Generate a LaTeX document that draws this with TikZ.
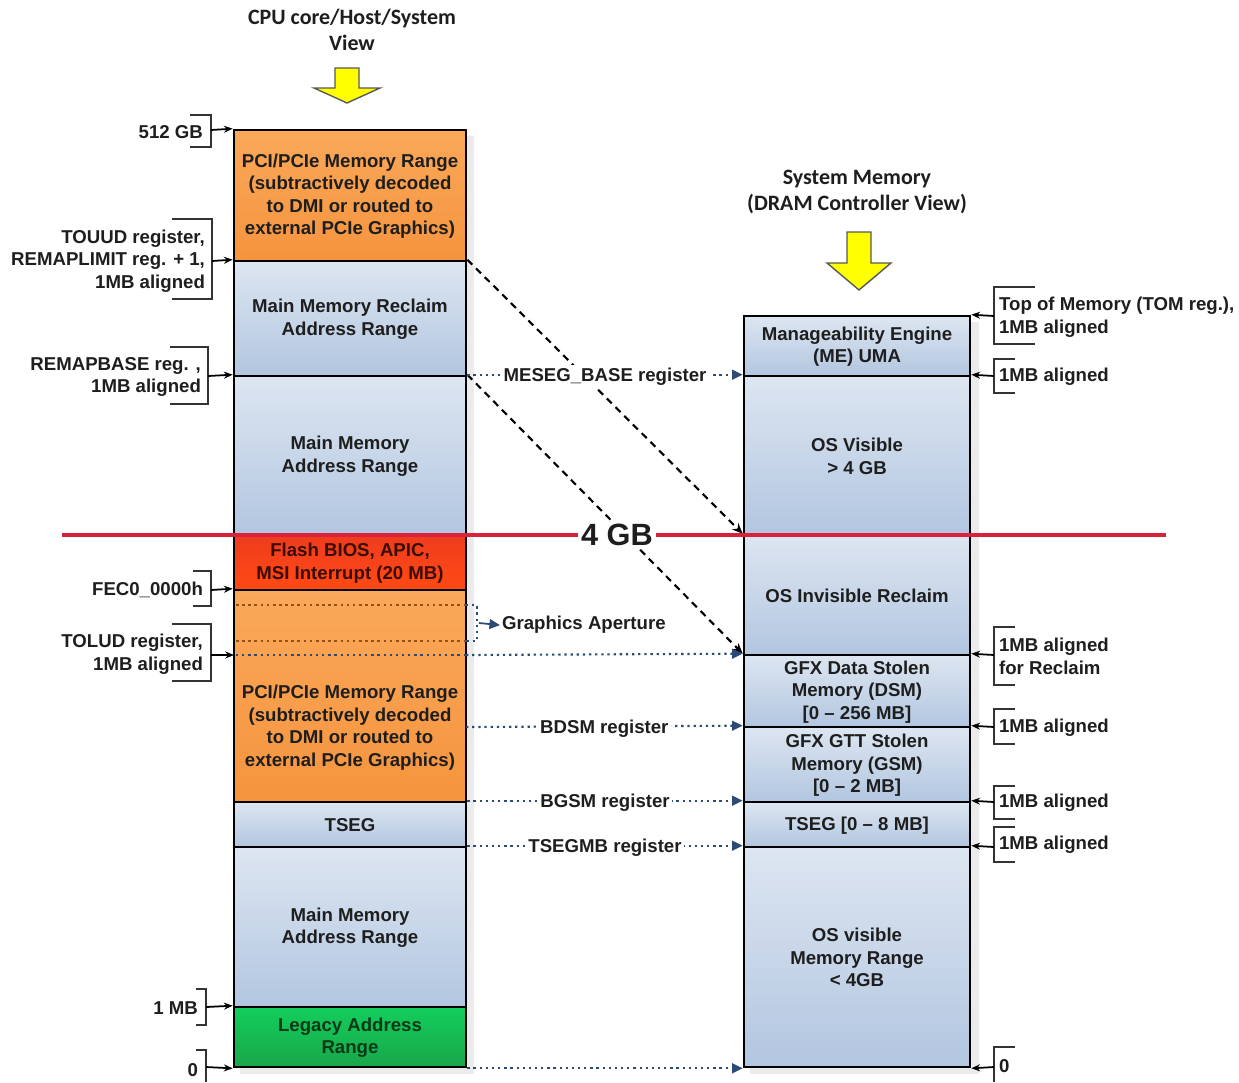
\documentclass[tikz,border=0pt]{standalone}
\usepackage{fontspec}
\setmainfont{Liberation Sans}
\newfontfamily\titlefont{Carlito}
\usetikzlibrary{arrows.meta,fit}

\definecolor{blueTop}{HTML}{DDE6F1}
\definecolor{blueBot}{HTML}{B2C6E0}
\definecolor{orgTop}{HTML}{FAA85A}
\definecolor{orgBot}{HTML}{F5943E}
\definecolor{redTop}{HTML}{EE3C1E}
\definecolor{redBot}{HTML}{FF4A14}
\definecolor{grnTop}{HTML}{12CE5C}
\definecolor{grnBot}{HTML}{1AA64A}
\definecolor{regblue}{HTML}{2B4A75}
\definecolor{gbred}{HTML}{D8213A}
\definecolor{ink}{HTML}{1E1E1E}
\definecolor{flashink}{HTML}{3A0C02}
\definecolor{legacyink}{HTML}{083A18}
\definecolor{apbrown}{HTML}{955016}
\definecolor{arrowyellow}{HTML}{FFFF00}

\tikzset{
  cell/.style={draw=black, line width=1.5pt, inner sep=0pt},
  bluecell/.style={cell, top color=blueTop, bottom color=blueBot},
  orangecell/.style={cell, top color=orgTop, bottom color=orgBot},
  redcell/.style={cell, top color=redTop, bottom color=redBot},
  greencell/.style={cell, top color=grnTop, bottom color=grnBot},
  lbl/.style={inner sep=1pt, text=ink, yshift=-1.2pt,
    font=\fontsize{10.6}{12.8}\selectfont\bfseries},
  celltext/.style={lbl, align=center, yshift=0.8pt},
  title/.style={align=center, text=ink, font=\titlefont\fontsize{12.5}{14.7}\selectfont\bfseries},
  brace/.style={draw=black!80, line width=0.8pt},
  ptr/.style={draw=black, line width=1pt, -{Stealth[length=5pt,width=4pt]}},
  regarrow/.style={draw=regblue, line width=1.2pt, dash pattern=on 1.3pt off 2.2pt,
    -{Triangle[length=6pt,width=5.5pt]}},
  regline/.style={draw=regblue, line width=1.2pt, dash pattern=on 1.3pt off 2.2pt},
  apline/.style={draw=apbrown, line width=1.6pt, dash pattern=on 1.5pt off 2pt},
  regname/.style={lbl, fill=white, inner sep=1.5pt},
  remap/.style={draw=black, line width=1.2pt, dash pattern=on 4pt off 3pt,
    -{Stealth[length=6pt,width=5pt]}},
  yarrow/.style={fill=arrowyellow, draw=black!65, line width=0.8pt, line join=miter},
  shadowbox/.style={fill=black, opacity=0.08}
}

% memory cell: name, corner x/y, opposite corner x/y, style, text, text colour
\newcommand\memcell[8]{%
  \node[#6, fit={(#2,#3)(#4,#5)}] (#1) {};
  \node[celltext, text=#8] (#1text) at (#1.center) {#7};}

\begin{document}
\begin{tikzpicture}[x=0.02cm, y=-0.02cm]
\useasboundingbox[fill=white] (0,0) rectangle (1239,1082);

% titles and yellow arrows
\node[title] (cputitle) at (352,30) {CPU core/Host/System\\View};
\node[title] (dramtitle) at (857,192) {System Memory\\(DRAM Controller View)};
\path[yarrow] (335,68) -- (359,68) -- (359,88) -- (380,88) -- (347,103)
  -- (314,88) -- (335,88) -- cycle;
\path[yarrow] (847,232) -- (871,232) -- (871,263) -- (891,263) -- (859,290)
  -- (827,263) -- (847,263) -- cycle;

% soft shadows behind both columns
\fill[shadowbox] (240,136) rectangle (474,1074);
\fill[shadowbox] (750,322) rectangle (979,1074);

% CPU / host view column
\memcell{lPCIhi}{234}{130}{466}{261}{orangecell}{PCI/PCIe Memory Range\\(subtractively decoded\\to DMI or routed to\\external PCIe Graphics)}{ink}
\memcell{lReclaim}{234}{261}{466}{376}{bluecell}{Main Memory Reclaim\\Address Range}{ink}
\memcell{lMainHi}{234}{376}{466}{535}{bluecell}{Main Memory\\Address Range}{ink}
\memcell{lFlash}{234}{535}{466}{590}{redcell}{Flash BIOS, APIC,\\MSI Interrupt (20 MB)}{flashink}
\node[orangecell, fit={(234,590)(466,802)}] (lPCIlo) {};
\memcell{lTSEG}{234}{802}{466}{847}{bluecell}{TSEG}{ink}
\memcell{lMainLo}{234}{847}{466}{1007}{bluecell}{Main Memory\\Address Range}{ink}
\memcell{lLegacy}{234}{1007}{466}{1067}{greencell}{Legacy Address\\Range}{legacyink}
\node[celltext] (lPCIloText) at (350,727) {PCI/PCIe Memory Range\\(subtractively decoded\\to DMI or routed to\\external PCIe Graphics)};

% DRAM controller view column
\memcell{rME}{744}{316}{970}{376}{bluecell}{Manageability Engine\\(ME) UMA}{ink}
\memcell{rOSvis}{744}{376}{970}{535}{bluecell}{OS Visible\\> 4 GB}{ink}
\memcell{rReclaim}{744}{535}{970}{655}{bluecell}{OS Invisible Reclaim}{ink}
\memcell{rDSM}{744}{655}{970}{727}{bluecell}{GFX Data Stolen\\Memory (DSM)\\{[0 – 256 MB]}}{ink}
\memcell{rGSM}{744}{727}{970}{802}{bluecell}{GFX GTT Stolen\\Memory (GSM)\\{[0 – 2 MB]}}{ink}
\memcell{rTSEG}{744}{802}{970}{847}{bluecell}{TSEG [0 – 8 MB]}{ink}
\memcell{rOSlow}{744}{847}{970}{1067}{bluecell}{OS visible\\Memory Range\\< 4GB}{ink}

% graphics aperture inside the lower PCI range
\coordinate (apTopL) at (236,605);
\coordinate (apTopR) at (466,605);
\coordinate (apBotL) at (236,641);
\coordinate (apBotR) at (466,641);
\coordinate (toludL) at (236,655);
\coordinate (toludR) at (466,655);
\coordinate (toludIn) at (234,655);
\coordinate (bdsmL) at (466,727);
\draw[apline] (apTopL) -- (apTopR);
\draw[apline] (apBotL) -- (apBotR);
\draw[regline] (toludL) -- (toludR);
\draw[regline] (apTopR) -- (477,605) -- (477,641) -- (apBotR);
\node[lbl, anchor=west] (aperture) at (500,623) {Graphics Aperture};
\draw[regblue, line width=1pt, -{Triangle[length=6pt,width=5.5pt]}] (479,623) -- (aperture.west);

% remapped reclaim windows
\draw[remap] (lReclaim.north east) -- (rReclaim.north west);
\draw[remap] (lMainHi.north east) -- (rDSM.north west);

% 4 GB boundary
\draw[gbred, line width=1.8pt] (62,535) -- (1166,535);
\node[fill=white, inner sep=2pt, text=ink, font=\fontsize{17.5}{19}\selectfont\bfseries] (fourgb) at (617,535) {4 GB};

% register pointers between the two views
\draw[regarrow] (lMainHi.north east) -- node[regname] (meseg) {MESEG\_BASE register} (rOSvis.north west);
\draw[regarrow] (toludR) -- (rDSM.north west);
\draw[regarrow] (bdsmL) -- node[regname] (bdsm) {BDSM register} (rGSM.north west);
\draw[regarrow] (lTSEG.north east) -- node[regname] (bgsm) {BGSM register} (rTSEG.north west);
\draw[regarrow] (lMainLo.north east) -- node[regname] (tsegmb) {TSEGMB register} (rOSlow.north west);
\draw[regarrow] (lLegacy.south east) -- (rOSlow.south west);

% address marks on the left
\node[lbl, anchor=east] (a512) at (205,130) {512 GB};
\draw[brace] (190,115) -- (211,115) -- (211,147) -- (190,147);
\coordinate (b512) at (211,130);
\draw[ptr] (b512) -- (lPCIhi.north west);

\node[lbl, anchor=east, align=right] (atouud) at (207,259) {TOUUD register,\\REMAPLIMIT reg. + 1,\\1MB aligned};
\draw[brace] (172,219) -- (212,219) -- (212,299) -- (172,299);
\coordinate (btouud) at (212,261);
\draw[ptr] (btouud) -- (lReclaim.north west);

\node[lbl, anchor=east, align=right] (aremap) at (203,375) {REMAPBASE reg. ,\\1MB aligned};
\draw[brace] (170,347) -- (208,347) -- (208,404) -- (170,404);
\coordinate (bremap) at (208,376);
\draw[ptr] (bremap) -- (lMainHi.north west);

\node[lbl, anchor=east] (afec) at (205,588) {FEC0\_0000h};
\draw[brace] (193,571) -- (211,571) -- (211,606) -- (193,606);
\coordinate (bfec) at (211,590);
\draw[ptr] (bfec) -- (lPCIlo.north west);

\node[lbl, anchor=east, align=right] (atolud) at (205,652) {TOLUD register,\\1MB aligned};
\draw[brace] (172,624) -- (211,624) -- (211,681) -- (172,681);
\coordinate (btolud) at (211,655);
\draw[ptr] (btolud) -- (toludIn);

\node[lbl, anchor=east] (a1mb) at (200,1006) {1 MB};
\draw[brace] (196,989) -- (206,989) -- (206,1025) -- (196,1025);
\coordinate (b1mb) at (206,1007);
\draw[ptr] (b1mb) -- (lLegacy.north west);

\node[lbl, anchor=east] (azero) at (200,1068) {0};
\draw[brace] (196,1050) -- (206,1050) -- (206,1082);
\coordinate (bzero) at (206,1067);
\draw[ptr] (bzero) -- (lLegacy.south west);

% address marks on the right
\node[lbl, anchor=west, align=left] (rtom) at (997,315) {Top of Memory (TOM reg.),\\1MB aligned};
\draw[brace] (1035,287) -- (994,287) -- (994,344) -- (1035,344);
\coordinate (ctom) at (994,316);
\draw[ptr] (ctom) -- (rME.north east);

\node[lbl, anchor=west] (rme) at (997,375) {1MB aligned};
\draw[brace] (1015,359) -- (994,359) -- (994,393) -- (1015,393);
\coordinate (cme) at (994,376);
\draw[ptr] (cme) -- (rOSvis.north east);

\node[lbl, anchor=west, align=left] (rrecl) at (997,654) {1MB aligned\\for Reclaim};
\draw[brace] (1015,627) -- (994,627) -- (994,685) -- (1015,685);
\coordinate (crecl) at (994,655);
\draw[ptr] (crecl) -- (rDSM.north east);

\node[lbl, anchor=west] (rdsm) at (997,726) {1MB aligned};
\draw[brace] (1015,709) -- (994,709) -- (994,744) -- (1015,744);
\coordinate (cdsm) at (994,727);
\draw[ptr] (cdsm) -- (rGSM.north east);

\node[lbl, anchor=west] (rgsm) at (997,801) {1MB aligned};
\draw[brace] (1015,786) -- (994,786) -- (994,819) -- (1015,819);
\coordinate (cgsm) at (994,802);
\draw[ptr] (cgsm) -- (rTSEG.north east);

\node[lbl, anchor=west] (rtseg) at (997,843) {1MB aligned};
\draw[brace] (1015,827) -- (994,827) -- (994,862) -- (1015,862);
\coordinate (ctseg) at (994,847);
\draw[ptr] (ctseg) -- (rOSlow.north east);

\node[lbl, anchor=west] (rzero) at (997,1064) {0};
\draw[brace] (1015,1047) -- (994,1047) -- (994,1082);
\coordinate (czero) at (994,1067);
\draw[ptr] (czero) -- (rOSlow.south east);
\end{tikzpicture}
\end{document}
